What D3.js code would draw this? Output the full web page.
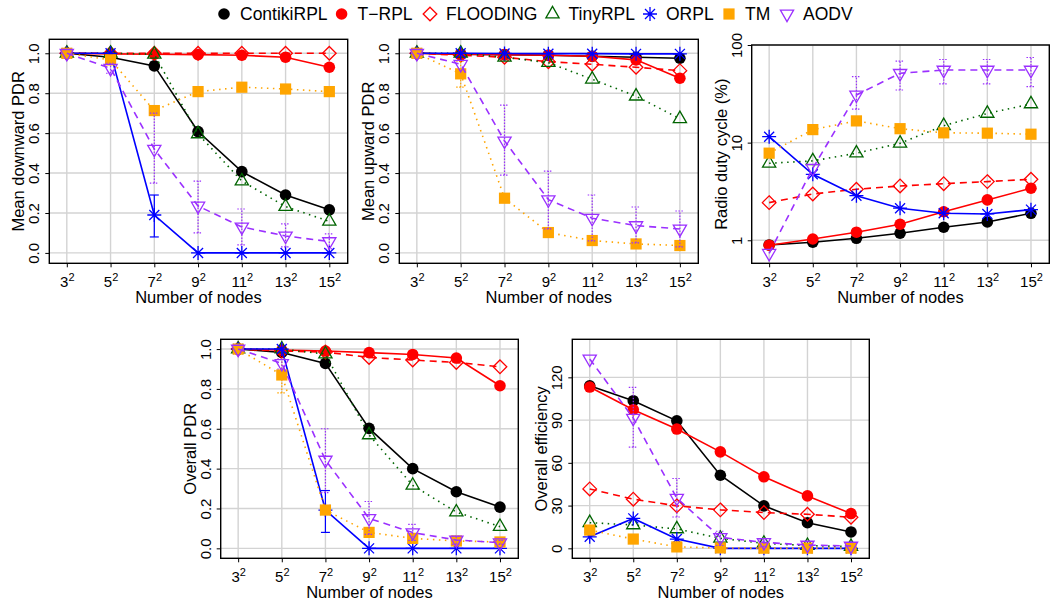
<!DOCTYPE html>
<html>
<head>
<meta charset="utf-8">
<script src="https://cdn.jsdelivr.net/npm/d3@7"></script>
<style>
  body { margin: 0; background: #fff; }
  svg { font-family: "Liberation Sans", Arial, Helvetica, sans-serif; }
</style>
</head>
<body>
<div id="chart"></div>
<script>
var svgWidth = 1055;
var svgHeight = 605;

// ---- data ----
var nodeBases = ["3", "5", "7", "9", "11", "13", "15"];
var protocols = ["ContikiRPL", "T\u2212RPL", "FLOODING", "TinyRPL", "ORPL", "TM", "AODV"];

// rows follow the protocols order
var downwardPDR = [
  [1.0, 0.98, 0.937, 0.608, 0.407, 0.29, 0.216],
  [1.0, 0.997, 0.995, 0.993, 0.99, 0.98, 0.93],
  [1.0, 1.0, 1.0, 1.0, 1.0, 1.0, 1.0],
  [1.0, 1.0, 0.995, 0.596, 0.36, 0.232, 0.158],
  [1.0, 1.0, 0.19, 0, 0, 0, 0],
  [1.0, 0.967, 0.713, 0.808, 0.83, 0.821, 0.808],
  [1.0, 0.925, 0.52, 0.235, 0.13, 0.085, 0.057]
];
var upwardPDR = [
  [1.0, 0.995, 0.993, 0.99, 0.985, 0.98, 0.975],
  [1.0, 0.995, 0.993, 0.99, 0.985, 0.967, 0.875],
  [1.0, 0.99, 0.98, 0.958, 0.945, 0.93, 0.913],
  [1.0, 1.0, 0.98, 0.953, 0.87, 0.785, 0.672],
  [1.0, 1.0, 0.999, 0.998, 0.998, 0.997, 0.997],
  [1.0, 0.897, 0.274, 0.102, 0.062, 0.045, 0.037],
  [1.0, 0.945, 0.561, 0.267, 0.174, 0.137, 0.12]
];
var dutyCycle = [
  [0.896, 0.954, 1.048, 1.18, 1.36, 1.54, 1.89],
  [0.89, 1.03, 1.21, 1.46, 1.96, 2.59, 3.41],
  [2.43, 2.98, 3.33, 3.6, 3.8, 3.99, 4.21],
  [6.14, 6.5, 7.8, 9.85, 14.9, 19.9, 24.9],
  [11.5, 4.74, 2.86, 2.13, 1.89, 1.86, 2.06],
  [7.8, 13.6, 16.7, 13.9, 12.6, 12.5, 12.2],
  [0.736, 5.47, 30.8, 51.3, 55.4, 55.4, 55.4]
];
var overallPDR = [
  [1.0, 0.983, 0.928, 0.602, 0.40, 0.284, 0.207],
  [1.0, 0.995, 0.99, 0.982, 0.973, 0.955, 0.816],
  [1.0, 0.99, 0.985, 0.958, 0.945, 0.933, 0.911],
  [1.0, 1.0, 0.975, 0.569, 0.316, 0.182, 0.109],
  [1.0, 1.0, 0.192, 0, 0, 0, 0],
  [1.0, 0.87, 0.192, 0.08, 0.05, 0.037, 0.032],
  [1.0, 0.928, 0.443, 0.15, 0.079, 0.042, 0.028]
];
var efficiency = [
  [114.1, 103.6, 89.5, 51.3, 29.8, 18.0, 11.5],
  [113.2, 97.3, 83.7, 67.7, 50.2, 36.8, 24.4],
  [41.7, 34.5, 29.8, 27.0, 25.1, 23.9, 21.8],
  [18.0, 16.4, 13.6, 7.0, 3.5, 1.9, 1.2],
  [8.1, 21.0, 6.5, 0, 0, 0, 0],
  [12.8, 6.5, 1.0, 0.3, 0.1, 0.1, 0.1],
  [132.9, 91.4, 35.2, 7.7, 4.2, 2.3, 1.6]
];

// error bars: [protocol index, point index, low, high]
var downwardErr = [
  [0, 2, 0.92, 0.955],
  [4, 2, 0.08, 0.29],
  [6, 1, 0.90, 0.95], [6, 2, 0.35, 0.70], [6, 3, 0.10, 0.36],
  [6, 4, 0.04, 0.22], [6, 5, 0.03, 0.145], [6, 6, 0.02, 0.095]
];
var upwardErr = [
  [5, 1, 0.83, 0.96],
  [6, 2, 0.39, 0.74], [6, 3, 0.12, 0.41], [6, 4, 0.06, 0.29],
  [6, 5, 0.05, 0.23], [6, 6, 0.03, 0.21]
];
var dutyErr = [
  [6, 2, 22, 47.5], [6, 3, 34.6, 68.5], [6, 4, 40, 71],
  [6, 5, 40, 71], [6, 6, 37.5, 74.5]
];
var overallErr = [
  [4, 2, 0.08, 0.29],
  [5, 1, 0.78, 0.95],
  [6, 1, 0.90, 0.95], [6, 2, 0.28, 0.60], [6, 3, 0.07, 0.235],
  [6, 4, 0.04, 0.12], [6, 5, 0.02, 0.06], [6, 6, 0.02, 0.04]
];
var efficiencyErr = [
  [6, 1, 71, 113], [6, 2, 22, 49], [6, 3, 2, 12], [6, 4, 1, 6]
];

// ---- styles ----
var styles = [
  { color: "#000000", dash: null, shape: "circle" },
  { color: "#FF0000", dash: null, shape: "circle" },
  { color: "#FF0000", dash: "7,5", shape: "diamond" },
  { color: "#006400", dash: "1.5,4.5", shape: "triangle" },
  { color: "#0000FF", dash: null, shape: "asterisk" },
  { color: "#FFA500", dash: "1.5,4.5", shape: "square" },
  { color: "#9B30FF", dash: "7,5", shape: "triangleDown" }
];

var panels = [
  { data: downwardPDR, err: downwardErr, title: "Mean downward PDR", x0: 49.3, x1: 347.7, y0: 39.3, y1: 263.3,
    ydom: [-0.052, 1.070], ticks: [0, 0.2, 0.4, 0.6, 0.8, 1.0], fmt: d3.format(".1f") },
  { data: upwardPDR, err: upwardErr, title: "Mean upward PDR", x0: 399.3, x1: 698.3, y0: 39.3, y1: 263.3,
    ydom: [-0.052, 1.070], ticks: [0, 0.2, 0.4, 0.6, 0.8, 1.0], fmt: d3.format(".1f") },
  { data: dutyCycle, err: dutyErr, title: "Radio duty cycle (%)", x0: 751.7, x1: 1049.3, y0: 45, y1: 263.3,
    ydom: [0.581, 100], log: true, ticks: [1, 10, 100], fmt: d3.format("d") },
  { data: overallPDR, err: overallErr, title: "Overall PDR", x0: 220.7, x1: 518.3, y0: 339.3, y1: 558.3,
    ydom: [-0.050, 1.049], ticks: [0, 0.2, 0.4, 0.6, 0.8, 1.0], fmt: d3.format(".1f") },
  { data: efficiency, err: efficiencyErr, title: "Overall efficiency", x0: 572.3, x1: 869.3, y0: 339.3, y1: 558.3,
    ydom: [-7, 146.7], ticks: [0, 30, 60, 90, 120], fmt: d3.format("d") }
];

var svg = d3.select("#chart")
  .append("svg")
  .attr("width", svgWidth)
  .attr("height", svgHeight);

svg.append("rect").attr("width", svgWidth).attr("height", svgHeight).attr("fill", "#fff");

// marker drawing
function drawMarker(g, shape, color) {
  if (shape === "circle") {
    g.append("circle").attr("r", 5.8).attr("fill", color);
  } else if (shape === "square") {
    g.append("rect").attr("x", -5.6).attr("y", -5.6).attr("width", 11.2).attr("height", 11.2).attr("fill", color);
  } else {
    var paths = {
      diamond: "M0,-6.8L6.8,0L0,6.8L-6.8,0Z",
      triangle: "M0,-7.6L6.6,3.8L-6.6,3.8Z",
      triangleDown: "M0,7.6L6.6,-3.8L-6.6,-3.8Z",
      asterisk: "M-7,0H7M0,-7V7M-5,-5L5,5M-5,5L5,-5"
    };
    g.append("path").attr("d", paths[shape])
      .attr("fill", "none")
      .attr("stroke", color)
      .attr("stroke-width", 1.3);
  }
}

panels.forEach(function(p) {
  var x = d3.scaleLinear().domain([-0.4, 6.42]).range([p.x0, p.x1]);
  var y = (p.log ? d3.scaleLog() : d3.scaleLinear()).domain(p.ydom).range([p.y1, p.y0]);
  var g = svg.append("g");

  // grid
  g.selectAll(".vgrid").data(d3.range(7)).enter().append("line")
    .attr("x1", d => x(d)).attr("x2", d => x(d))
    .attr("y1", p.y0).attr("y2", p.y1)
    .attr("stroke", "#D3D3D3").attr("stroke-width", 1.4);
  g.selectAll(".hgrid").data(p.ticks).enter().append("line")
    .attr("x1", p.x0).attr("x2", p.x1)
    .attr("y1", d => y(d)).attr("y2", d => y(d))
    .attr("stroke", "#D3D3D3").attr("stroke-width", 1.4);

  // x axis
  var xAxis = g.append("g")
    .attr("transform", `translate(0, ${p.y1})`)
    .call(d3.axisBottom(x).tickValues(d3.range(7)).tickSize(4).tickFormat(""));
  xAxis.select(".domain").remove();
  xAxis.attr("font-size", 15).attr("font-family", null);
  xAxis.selectAll(".tick text")
    .attr("y", 23.5).attr("dy", 0)
    .each(function(d) {
      var t = d3.select(this);
      t.text(nodeBases[d]);
      t.append("tspan").attr("font-size", 11).attr("dy", "-0.5em").text("2");
    });

  // y axis
  var yAxis = g.append("g")
    .attr("transform", `translate(${p.x0}, 0)`)
    .call(d3.axisLeft(y).tickValues(p.ticks).tickSize(4).tickFormat(p.fmt));
  yAxis.select(".domain").remove();
  yAxis.attr("font-size", 15).attr("font-family", null);
  yAxis.selectAll(".tick text")
    .attr("x", 0).attr("dy", 0)
    .attr("text-anchor", "middle")
    .attr("transform", "translate(-10,0) rotate(-90)");

  // titles
  g.append("text")
    .attr("x", (p.x0 + p.x1) / 2).attr("y", p.y1 + 40)
    .attr("text-anchor", "middle").attr("font-size", 16.5)
    .text("Number of nodes");
  g.append("text")
    .attr("transform", `translate(${p.x0 - 25}, ${(p.y0 + p.y1) / 2}) rotate(-90)`)
    .attr("text-anchor", "middle").attr("font-size", 16.5)
    .text(p.title);

  var line = d3.line().x((d, i) => x(i)).y(d => y(d));

  p.data.forEach(function(vals, k) {
    var s = styles[k];
    g.append("path")
      .attr("d", line(vals))
      .attr("fill", "none")
      .attr("stroke", s.color)
      .attr("stroke-width", 1.6)
      .attr("stroke-dasharray", s.dash);

    // error bars for this series
    p.err.filter(e => e[0] === k).forEach(function(e) {
      var ex = x(e[1]);
      var eb = g.append("g").attr("stroke", s.color).attr("stroke-width", 1.2)
        .attr("stroke-dasharray", s.dash ? "1.5,1.5" : null);
      eb.append("line").attr("x1", ex).attr("x2", ex).attr("y1", y(e[2])).attr("y2", y(e[3]));
      eb.append("line").attr("x1", ex - 4.5).attr("x2", ex + 4.5).attr("y1", y(e[2])).attr("y2", y(e[2]));
      eb.append("line").attr("x1", ex - 4.5).attr("x2", ex + 4.5).attr("y1", y(e[3])).attr("y2", y(e[3]));
    });

    vals.forEach(function(v, i) {
      var m = g.append("g").attr("transform", `translate(${x(i)}, ${y(v)})`);
      drawMarker(m, s.shape, s.color);
    });
  });

  // box
  g.append("rect")
    .attr("x", p.x0).attr("y", p.y0)
    .attr("width", p.x1 - p.x0).attr("height", p.y1 - p.y0)
    .attr("fill", "none").attr("stroke", "#000").attr("stroke-width", 1.4);
});

// legend
var legendX = [224, 341.6, 430, 552.5, 650, 729, 787];
var legend = svg.append("g");
protocols.forEach(function(name, k) {
  var m = legend.append("g").attr("transform", `translate(${legendX[k]}, 14)`);
  drawMarker(m, styles[k].shape, styles[k].color);
  legend.append("text")
    .attr("x", legendX[k] + 16).attr("y", 20)
    .attr("font-size", 17.5)
    .text(name);
});
</script>
</body>
</html>
